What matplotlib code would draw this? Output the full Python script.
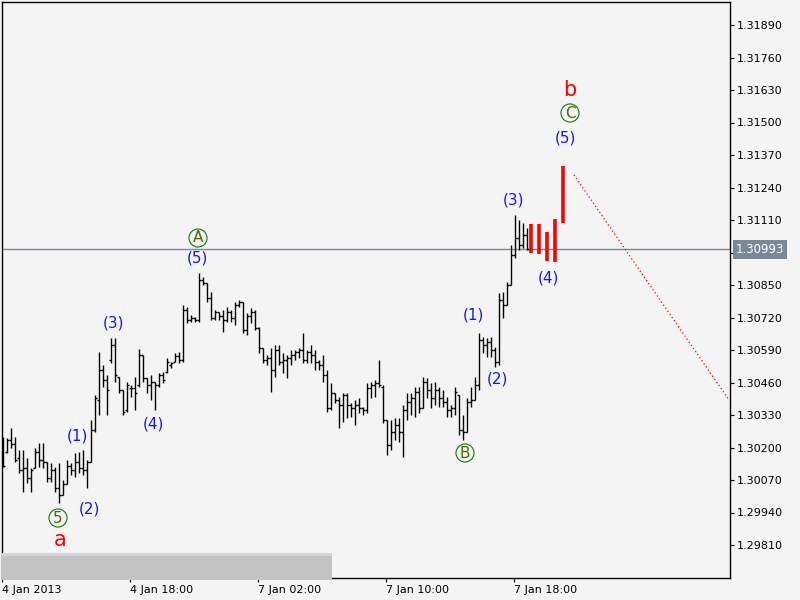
import matplotlib
matplotlib.use("Agg")
import matplotlib.pyplot as plt
import matplotlib.transforms as mtransforms
from matplotlib.patches import Rectangle

# M15 bars, one unit on x per bar
opens = [1.30210, 1.30182, 1.30230, 1.30214, 1.30158, 1.30110, 1.30118, 1.30078, 1.30118, 1.30182,
         1.30150, 1.30142, 1.30078, 1.30110, 1.30038, 1.30010, 1.30054, 1.30126, 1.30110, 1.30142,
         1.30118, 1.30110, 1.30142, 1.30270, 1.30390, 1.30510, 1.30470, 1.30550, 1.30610, 1.30482,
         1.30430, 1.30350, 1.30438, 1.30438, 1.30450, 1.30570, 1.30478, 1.30450, 1.30462, 1.30450,
         1.30490, 1.30502, 1.30530, 1.30542, 1.30566, 1.30550, 1.30750, 1.30710, 1.30718, 1.30710,
         1.30870, 1.30858, 1.30798, 1.30718, 1.30742, 1.30726, 1.30710, 1.30742, 1.30718, 1.30770,
         1.30782, 1.30670, 1.30726, 1.30742, 1.30678, 1.30598, 1.30550, 1.30558, 1.30510, 1.30590,
         1.30542, 1.30550, 1.30558, 1.30570, 1.30582, 1.30590, 1.30550, 1.30582, 1.30570, 1.30542,
         1.30530, 1.30490, 1.30358, 1.30418, 1.30390, 1.30370, 1.30410, 1.30370, 1.30358, 1.30370,
         1.30358, 1.30350, 1.30438, 1.30450, 1.30458, 1.30442, 1.30310, 1.30210, 1.30262, 1.30290,
         1.30262, 1.30350, 1.30382, 1.30398, 1.30422, 1.30358, 1.30462, 1.30430, 1.30398, 1.30430,
         1.30398, 1.30382, 1.30350, 1.30358, 1.30410, 1.30270, 1.30262, 1.30382, 1.30390, 1.30450,
         1.30630, 1.30610, 1.30622, 1.30590, 1.30542, 1.30790, 1.30770, 1.30850, 1.30970, 1.31038,
         1.31010, 1.31050]
highs = [1.30242, 1.30238, 1.30278, 1.30242, 1.30190, 1.30190, 1.30158, 1.30118, 1.30198, 1.30218,
         1.30218, 1.30142, 1.30138, 1.30122, 1.30138, 1.30070, 1.30150, 1.30138, 1.30178, 1.30182,
         1.30190, 1.30150, 1.30310, 1.30410, 1.30582, 1.30530, 1.30490, 1.30638, 1.30638, 1.30482,
         1.30430, 1.30462, 1.30450, 1.30482, 1.30594, 1.30570, 1.30478, 1.30490, 1.30462, 1.30498,
         1.30502, 1.30558, 1.30542, 1.30578, 1.30582, 1.30770, 1.30762, 1.30730, 1.30722, 1.30898,
         1.30882, 1.30858, 1.30822, 1.30750, 1.30742, 1.30750, 1.30762, 1.30750, 1.30782, 1.30790,
         1.30782, 1.30738, 1.30758, 1.30750, 1.30682, 1.30598, 1.30570, 1.30598, 1.30610, 1.30610,
         1.30578, 1.30570, 1.30590, 1.30590, 1.30598, 1.30658, 1.30590, 1.30610, 1.30590, 1.30550,
         1.30570, 1.30510, 1.30458, 1.30418, 1.30402, 1.30418, 1.30418, 1.30378, 1.30390, 1.30398,
         1.30362, 1.30458, 1.30462, 1.30470, 1.30550, 1.30450, 1.30310, 1.30310, 1.30318, 1.30318,
         1.30370, 1.30418, 1.30418, 1.30442, 1.30442, 1.30482, 1.30478, 1.30458, 1.30462, 1.30442,
         1.30430, 1.30402, 1.30370, 1.30442, 1.30410, 1.30330, 1.30398, 1.30442, 1.30482, 1.30658,
         1.30642, 1.30638, 1.30642, 1.30602, 1.30818, 1.30822, 1.30862, 1.31010, 1.31130, 1.31110,
         1.31098, 1.31078]
lows = [1.30122, 1.30178, 1.30198, 1.30142, 1.30098, 1.30022, 1.30058, 1.30022, 1.30118, 1.30122,
        1.30118, 1.30062, 1.30062, 1.30022, 1.29978, 1.30010, 1.30054, 1.30090, 1.30082, 1.30098,
        1.30090, 1.30038, 1.30142, 1.30262, 1.30330, 1.30442, 1.30330, 1.30538, 1.30462, 1.30418,
        1.30330, 1.30342, 1.30402, 1.30350, 1.30442, 1.30462, 1.30418, 1.30390, 1.30350, 1.30442,
        1.30458, 1.30498, 1.30518, 1.30542, 1.30538, 1.30542, 1.30698, 1.30702, 1.30702, 1.30702,
        1.30850, 1.30782, 1.30710, 1.30710, 1.30710, 1.30662, 1.30702, 1.30702, 1.30690, 1.30762,
        1.30658, 1.30650, 1.30698, 1.30670, 1.30578, 1.30538, 1.30530, 1.30422, 1.30482, 1.30530,
        1.30498, 1.30478, 1.30530, 1.30550, 1.30558, 1.30538, 1.30538, 1.30538, 1.30510, 1.30510,
        1.30462, 1.30342, 1.30350, 1.30378, 1.30278, 1.30302, 1.30318, 1.30322, 1.30290, 1.30338,
        1.30330, 1.30338, 1.30398, 1.30402, 1.30442, 1.30298, 1.30170, 1.30190, 1.30230, 1.30222,
        1.30162, 1.30310, 1.30330, 1.30322, 1.30338, 1.30358, 1.30398, 1.30358, 1.30370, 1.30362,
        1.30362, 1.30322, 1.30322, 1.30330, 1.30250, 1.30230, 1.30262, 1.30362, 1.30390, 1.30430,
        1.30578, 1.30562, 1.30562, 1.30522, 1.30530, 1.30718, 1.30770, 1.30850, 1.30958, 1.30990,
        1.30998, 1.30990]
closes = [1.30126, 1.30230, 1.30214, 1.30150, 1.30110, 1.30118, 1.30078, 1.30110, 1.30182, 1.30150,
          1.30142, 1.30078, 1.30110, 1.30038, 1.30010, 1.30054, 1.30126, 1.30110, 1.30142, 1.30118,
          1.30110, 1.30142, 1.30270, 1.30398, 1.30510, 1.30470, 1.30430, 1.30610, 1.30490, 1.30430,
          1.30342, 1.30450, 1.30438, 1.30418, 1.30570, 1.30478, 1.30450, 1.30462, 1.30450, 1.30490,
          1.30470, 1.30542, 1.30538, 1.30566, 1.30550, 1.30750, 1.30710, 1.30718, 1.30710, 1.30870,
          1.30858, 1.30798, 1.30718, 1.30742, 1.30726, 1.30710, 1.30742, 1.30718, 1.30770, 1.30782,
          1.30670, 1.30726, 1.30742, 1.30678, 1.30598, 1.30550, 1.30558, 1.30510, 1.30590, 1.30542,
          1.30550, 1.30558, 1.30570, 1.30582, 1.30590, 1.30550, 1.30582, 1.30570, 1.30542, 1.30530,
          1.30490, 1.30358, 1.30418, 1.30390, 1.30370, 1.30410, 1.30370, 1.30358, 1.30370, 1.30358,
          1.30350, 1.30438, 1.30450, 1.30458, 1.30450, 1.30310, 1.30210, 1.30262, 1.30290, 1.30262,
          1.30350, 1.30382, 1.30398, 1.30422, 1.30358, 1.30462, 1.30430, 1.30398, 1.30430, 1.30398,
          1.30382, 1.30350, 1.30358, 1.30422, 1.30270, 1.30262, 1.30382, 1.30390, 1.30450, 1.30630,
          1.30610, 1.30622, 1.30590, 1.30542, 1.30790, 1.30770, 1.30850, 1.30970, 1.31038, 1.31010,
          1.31050, 1.30993]

# projected (red) bars for wave (4)-(5)
proj_x = [132, 134, 136, 138, 140]
proj_high = [1.31094, 1.31094, 1.31062, 1.31114, 1.31326]
proj_low = [1.30978, 1.30974, 1.30946, 1.30942, 1.31098]

# dotted target line
target_x = [142.75, 181.5]
target_y = [1.31290, 1.30390]

last_price = 1.30993

y_ticks = [1.29810, 1.29940, 1.30070, 1.30200, 1.30330, 1.30460, 1.30590, 1.30720, 1.30850,
           1.30980, 1.31110, 1.31240, 1.31370, 1.31500, 1.31630, 1.31760, 1.31890]
x_ticks = [-0.25, 31.75, 63.75, 95.75, 127.75]
x_labels = ["4 Jan 2013", "4 Jan 18:00", "7 Jan 02:00", "7 Jan 10:00", "7 Jan 18:00"]

# wave labels: (text, x, y, kind)
wave_labels = [
    ("a", 14.25, 1.29830, "red"),
    ("5", 13.75, 1.29918, "circle"),
    ("(1)", 18.5, 1.30246, "blue"),
    ("(2)", 21.5, 1.29954, "blue"),
    ("(3)", 27.75, 1.30698, "blue"),
    ("(4)", 37.5, 1.30294, "blue"),
    ("(5)", 48.5, 1.30958, "blue"),
    ("A", 48.75, 1.31038, "circle"),
    ("B", 115.5, 1.30178, "circle"),
    ("(1)", 117.5, 1.30730, "blue"),
    ("(2)", 123.5, 1.30474, "blue"),
    ("(3)", 127.5, 1.31190, "blue"),
    ("(4)", 136.25, 1.30878, "blue"),
    ("(5)", 140.5, 1.31438, "blue"),
    ("C", 141.75, 1.31538, "circle"),
    ("b", 141.75, 1.31630, "red"),
]

bg = "#f4f4f4"
fig = plt.figure(figsize=(8, 6), dpi=100, facecolor=bg)
ax = fig.add_axes([2 / 800, 22 / 600, 728 / 800, 576 / 600], facecolor=bg)

xs = list(range(len(opens)))
ax.vlines(xs, lows, highs, color="black", linewidth=1)
ax.hlines(opens, [x - 0.4 for x in xs], xs, color="black", linewidth=1)
ax.hlines(closes, xs, [x + 0.4 for x in xs], color="black", linewidth=1)

ax.vlines(proj_x, proj_low, proj_high, color="red", linewidth=2.6)
ax.plot(target_x, target_y, color="red", linewidth=0.9, linestyle=(0, (1, 2)))

ax.axhline(last_price, color="#778899", linewidth=1, zorder=1)

for txt, x, y, kind in wave_labels:
    if kind == "red":
        ax.text(x, y, txt, color="red", fontsize=15, ha="center", va="center")
    elif kind == "blue":
        ax.text(x, y, txt, color="#1616ff", fontsize=11, ha="center", va="center")
    else:
        ax.text(x, y, txt, color="#4f6a00", fontsize=11, ha="center", va="center",
                bbox=dict(boxstyle="circle,pad=0.1", fc="none", ec="#0a7a0a", lw=0.8))

ax.set_xlim(-0.25, 181.75)
ax.set_ylim(1.29678, 1.31982)

ax.yaxis.tick_right()
ax.set_yticks(y_ticks)
# the 1.30980 label sits under the current price box
ax.set_yticklabels(["" if abs(v - 1.30980) < 1e-9 else f"{v:.5f}" for v in y_ticks])
ax.set_xticks(x_ticks)
ax.set_xticklabels(x_labels, ha="left")
ax.tick_params(axis="both", labelsize=8, length=3, width=0.8, pad=2, colors="black")
for s in ax.spines.values():
    s.set_color("black")
    s.set_linewidth(1)

# current price box
trans = mtransforms.blended_transform_factory(ax.transAxes, ax.transData)
ax.text(1.0075, last_price, f"{last_price:.5f}", transform=trans, fontsize=8.5, color="white",
        ha="left", va="center", zorder=5,
        bbox=dict(boxstyle="square,pad=0.25", fc="#778899", ec="none"))

# grey scroll bar block at the bottom-left
fig.add_artist(Rectangle((2 / 800, 20 / 600), 330 / 800, 27 / 600, transform=fig.transFigure,
                         fc="#c3c3c3", ec="none", zorder=10))
fig.add_artist(Rectangle((2 / 800, 44 / 600), 330 / 800, 3 / 600, transform=fig.transFigure,
                         fc="#d6d6d6", ec="none", zorder=11))

fig.savefig("out.png", dpi=100, facecolor=bg)
